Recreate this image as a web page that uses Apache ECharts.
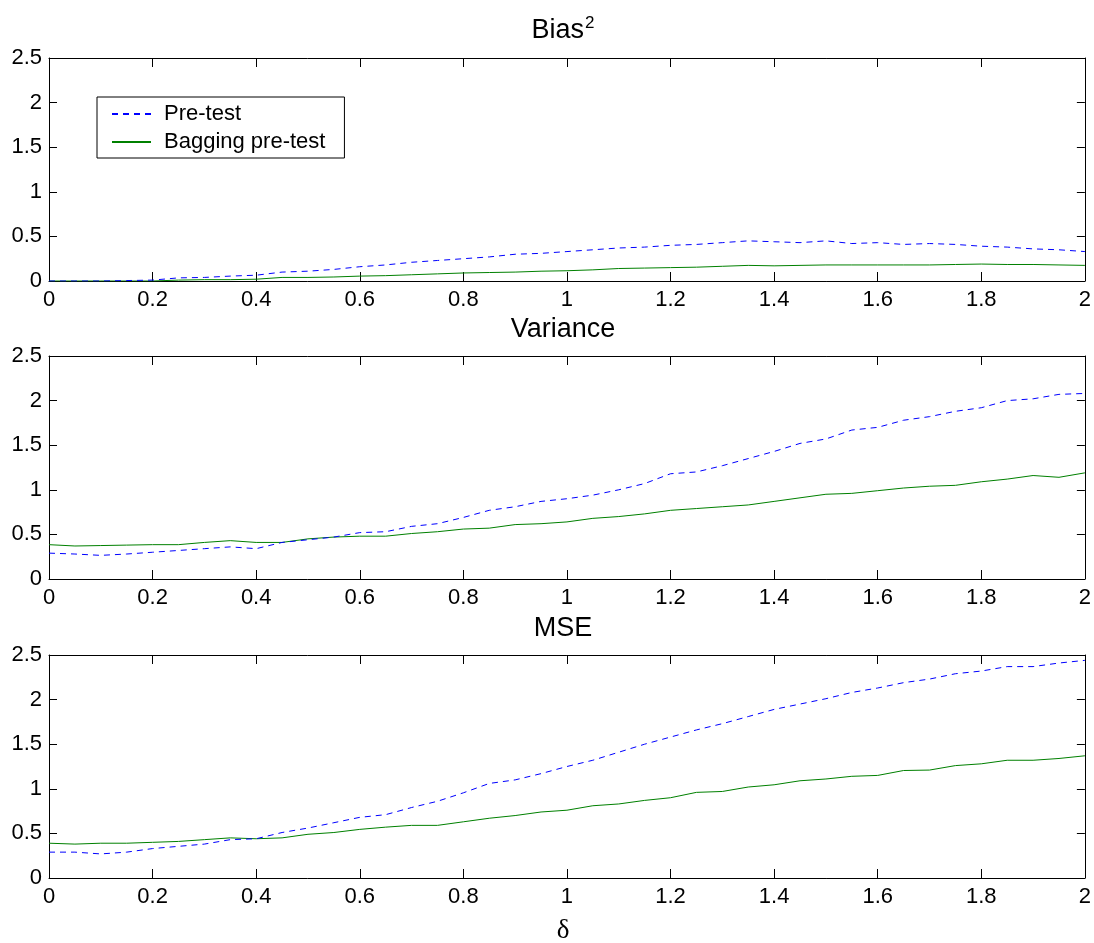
<!DOCTYPE html>
<html>
<head>
<meta charset="utf-8">
<script src="https://cdn.jsdelivr.net/npm/echarts@6/dist/echarts.min.js"></script>
<style>
  html, body { margin: 0; padding: 0; background: #fff; }
  #main { width: 1094px; height: 943px; }
</style>
</head>
<body>
<div id="main"></div>
<script>
// delta values (x axis)
var delta = [0, 0.05, 0.1, 0.15, 0.2, 0.25, 0.3, 0.35, 0.4, 0.45,
  0.5, 0.55, 0.6, 0.65, 0.7, 0.75, 0.8, 0.85, 0.9, 0.95,
  1.0, 1.05, 1.1, 1.15, 1.2, 1.25, 1.3, 1.35, 1.4, 1.45,
  1.5, 1.55, 1.6, 1.65, 1.7, 1.75, 1.8, 1.85, 1.9, 1.95, 2.0];

// Bias^2
var biasPre = [0, 0, 0, 0.005, 0.01, 0.035, 0.04, 0.055, 0.065, 0.1,
  0.11, 0.13, 0.16, 0.18, 0.21, 0.23, 0.25, 0.27, 0.3, 0.31,
  0.33, 0.35, 0.37, 0.38, 0.40, 0.41, 0.43, 0.45, 0.44, 0.43,
  0.45, 0.42, 0.43, 0.41, 0.42, 0.41, 0.39, 0.38, 0.36, 0.35, 0.33];
var biasBag = [0, 0, 0, 0, 0, 0.01, 0.015, 0.015, 0.02, 0.04,
  0.04, 0.045, 0.055, 0.06, 0.07, 0.08, 0.09, 0.095, 0.1, 0.11,
  0.115, 0.125, 0.14, 0.145, 0.15, 0.155, 0.165, 0.175, 0.17, 0.175,
  0.18, 0.18, 0.18, 0.18, 0.18, 0.185, 0.19, 0.185, 0.185, 0.18, 0.175];

// Variance
var varPre = [0.29, 0.28, 0.265, 0.28, 0.30, 0.32, 0.34, 0.36, 0.34, 0.41,
  0.44, 0.47, 0.52, 0.53, 0.59, 0.62, 0.69, 0.77, 0.81, 0.87,
  0.9, 0.94, 1.0, 1.07, 1.18, 1.2, 1.27, 1.35, 1.43, 1.52,
  1.57, 1.67, 1.70, 1.78, 1.82, 1.88, 1.92, 2.0, 2.02, 2.07, 2.08];
var varBag = [0.385, 0.37, 0.375, 0.38, 0.385, 0.385, 0.41, 0.43, 0.41, 0.41,
  0.45, 0.47, 0.48, 0.48, 0.51, 0.53, 0.56, 0.57, 0.61, 0.62,
  0.64, 0.68, 0.70, 0.73, 0.77, 0.79, 0.81, 0.83, 0.87, 0.91,
  0.95, 0.96, 0.99, 1.02, 1.04, 1.05, 1.09, 1.12, 1.16, 1.14, 1.19];

// MSE
var msePre = [0.29, 0.29, 0.27, 0.29, 0.33, 0.355, 0.38, 0.43, 0.44, 0.51,
  0.56, 0.62, 0.68, 0.71, 0.79, 0.86, 0.955, 1.06, 1.10, 1.17,
  1.25, 1.32, 1.41, 1.50, 1.58, 1.66, 1.73, 1.81, 1.89, 1.95,
  2.01, 2.08, 2.13, 2.19, 2.23, 2.29, 2.32, 2.37, 2.37, 2.41, 2.44];
var mseBag = [0.39, 0.38, 0.39, 0.39, 0.40, 0.41, 0.43, 0.45, 0.44, 0.45,
  0.49, 0.51, 0.545, 0.57, 0.59, 0.59, 0.63, 0.67, 0.70, 0.74,
  0.76, 0.81, 0.83, 0.87, 0.90, 0.96, 0.97, 1.02, 1.045, 1.09,
  1.11, 1.14, 1.15, 1.205, 1.21, 1.26, 1.28, 1.32, 1.32, 1.34, 1.37];

var panelTitles = ['Bias{s|2}', 'Variance', 'MSE'];
var seriesNames = ['Pre-test', 'Bagging pre-test'];

var chart = echarts.init(document.getElementById('main'), null, { renderer: 'canvas' });

var font = 'Liberation Sans, Arial, sans-serif';
var gridTops = [58, 356, 655];
var gridH = 223;
var titleOffsets = [-48, -45, -45];

function pairs(ys) {
  return ys.map(function (v, i) { return [delta[i], v]; });
}

var grids = [], xAxes = [], yAxes = [], series = [], titles = [];
var panels = [[biasPre, biasBag], [varPre, varBag], [msePre, mseBag]];

gridTops.forEach(function (top, g) {
  grids.push({ left: 49, right: 8, top: top, height: gridH, containLabel: false });
  // bottom x axis with labels
  xAxes.push({
    gridIndex: g, type: 'value', min: 0, max: 2, interval: 0.2, position: 'bottom',
    axisLine: { onZero: false, lineStyle: { color: '#000', width: 1 } },
    axisTick: { inside: true, length: 9, lineStyle: { color: '#000' } },
    axisLabel: { color: '#000', fontSize: 22, fontFamily: font, margin: 8 },
    splitLine: { show: false }
  });
  // top x axis (box)
  xAxes.push({
    gridIndex: g, type: 'value', min: 0, max: 2, interval: 0.2, position: 'top',
    axisLine: { onZero: false, lineStyle: { color: '#000', width: 1 } },
    axisTick: { inside: true, length: 9, lineStyle: { color: '#000' } },
    axisLabel: { show: false },
    splitLine: { show: false }
  });
  yAxes.push({
    gridIndex: g, type: 'value', min: 0, max: 2.5, interval: 0.5, position: 'left',
    axisLine: { onZero: false, lineStyle: { color: '#000', width: 1 } },
    axisTick: { inside: true, length: 8, lineStyle: { color: '#000' } },
    axisLabel: { color: '#000', fontSize: 22, fontFamily: font, margin: 7 },
    splitLine: { show: false }
  });
  yAxes.push({
    gridIndex: g, type: 'value', min: 0, max: 2.5, interval: 0.5, position: 'right',
    axisLine: { onZero: false, lineStyle: { color: '#000', width: 1 } },
    axisTick: { inside: true, length: 8, lineStyle: { color: '#000' } },
    axisLabel: { show: false },
    splitLine: { show: false }
  });

  series.push({
    name: seriesNames[0], type: 'line', xAxisIndex: g * 2, yAxisIndex: g * 2,
    data: pairs(panels[g][0]), symbol: 'none', z: 3,
    lineStyle: { color: '#0000ff', width: 1, type: [6, 5] },
    itemStyle: { color: '#0000ff' }
  });
  series.push({
    name: seriesNames[1], type: 'line', xAxisIndex: g * 2, yAxisIndex: g * 2,
    data: pairs(panels[g][1]), symbol: 'none', z: 2,
    lineStyle: { color: '#008000', width: 1 },
    itemStyle: { color: '#008000' }
  });

  titles.push({
    text: panelTitles[g], left: 558, top: top + titleOffsets[g], textAlign: 'center',
    textStyle: {
      color: '#000', fontSize: 27, fontWeight: 'normal', fontFamily: font,
      rich: { s: { fontSize: 17, color: '#000', fontFamily: font, padding: [0, 0, 14, 1] } }
    }
  });
});

// x label
titles.push({
  text: 'δ', left: 558, top: 912, textAlign: 'center',
  textStyle: { color: '#000', fontSize: 27, fontWeight: 'normal', fontFamily: 'Liberation Serif, DejaVu Serif, serif' }
});

chart.setOption({
  backgroundColor: '#fff',
  animation: false,
  title: titles,
  legend: {
    data: seriesNames,
    orient: 'vertical',
    left: 97, top: 97,
    padding: [6, 19, 5, 14],
    itemWidth: 39, itemHeight: 14, itemGap: 6,
    itemStyle: { opacity: 0 },
    borderColor: '#000', borderWidth: 1, borderRadius: 0,
    backgroundColor: '#fff',
    textStyle: { color: '#000', fontSize: 22, fontFamily: font, padding: [0, 0, 0, 8] }
  },
  grid: grids,
  xAxis: xAxes,
  yAxis: yAxes,
  series: series
});
</script>
</body>
</html>
